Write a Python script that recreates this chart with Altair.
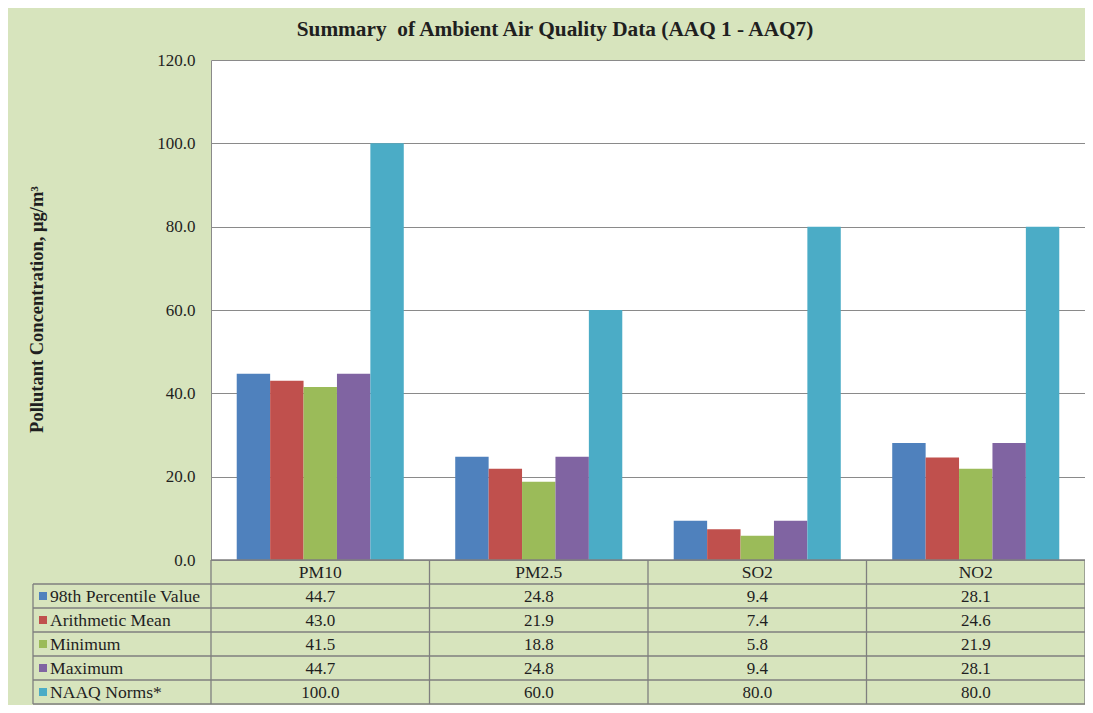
import altair as alt
import pandas as pd

categories = ["PM10", "PM2.5", "SO2", "NO2"]
series = ["98th Percentile Value", "Arithmetic Mean", "Minimum", "Maximum", "NAAQ Norms*"]
p98 = [44.7, 24.8, 9.4, 28.1]
amean = [43.0, 21.9, 7.4, 24.6]
minimum = [41.5, 18.8, 5.8, 21.9]
maximum = [44.7, 24.8, 9.4, 28.1]
naaq = [100.0, 60.0, 80.0, 80.0]
colors = ["#4F81BD", "#C0504D", "#9BBB59", "#8064A2", "#4BACC6"]
y_ticks = [0, 20, 40, 60, 80, 100, 120]

values = [p98, amean, minimum, maximum, naaq]

# layout constants
W, H = 874, 500
ROW_H = 24
N_COLS = len(categories)
COL_W = W / N_COLS
LABEL_LEFT = -178 / COL_W
N_ROWS = len(series) + 1
SERIF = "Liberation Serif"
TXT = "#1f1f1f"
LINE = "#7f7f7f"

rows = []
for i, s in enumerate(series):
    for j, c in enumerate(categories):
        rows.append({"category": c, "j": j, "series": s, "i": i, "value": values[i][j]})
df = pd.DataFrame(rows)

header = pd.DataFrame({"category": categories, "j": list(range(N_COLS))})
labels = pd.DataFrame({"series": series, "i": list(range(len(series)))})

hlines = pd.DataFrame(
    [{"r": r, "x0": (0 if r == 0 else LABEL_LEFT), "x1": N_COLS} for r in range(N_ROWS + 1)]
)
vlines = pd.DataFrame(
    [{"c": LABEL_LEFT, "r0": 1, "r1": N_ROWS}]
    + [{"c": j, "r0": 0, "r1": N_ROWS} for j in range(N_COLS + 1)]
)

tx_scale = alt.Scale(domain=[0, N_COLS], nice=False, zero=False)
ty_scale = alt.Scale(domain=[-H / ROW_H, 0], reverse=True, nice=False, zero=False)

bars = alt.Chart(df).mark_bar().encode(
    x=alt.X("category:N", sort=categories,
            scale=alt.Scale(paddingInner=0, paddingOuter=0), axis=None),
    xOffset=alt.XOffset("series:N", sort=series,
                        scale=alt.Scale(paddingOuter=0.77, paddingInner=0)),
    y=alt.Y("value:Q", scale=alt.Scale(domain=[0, 120], nice=False),
            axis=alt.Axis(values=y_ticks, format=".1f", ticks=False, domain=True,
                          domainColor="#8a8a8a", gridColor="#8a8a8a", gridWidth=1,
                          labelFont=SERIF, labelFontSize=17, labelColor=TXT,
                          labelPadding=16,
                          title="Pollutant Concentration, \u03bcg/m\u00b3",
                          titleFont=SERIF, titleFontSize=18.5, titleFontWeight="bold",
                          titleColor=TXT, titleX=-165, titleY=H / 2 - 1)),
    color=alt.Color("series:N", sort=series,
                    scale=alt.Scale(domain=series, range=colors), legend=None),
)

h_rules = alt.Chart(hlines).mark_rule(color=LINE, strokeWidth=1.3).encode(
    x=alt.X("x0:Q", scale=tx_scale, axis=None),
    x2="x1:Q",
    y=alt.Y("r:Q", scale=ty_scale, axis=None),
)

v_rules = alt.Chart(vlines).mark_rule(color=LINE, strokeWidth=1.3).encode(
    x=alt.X("c:Q", scale=tx_scale, axis=None),
    y=alt.Y("r0:Q", scale=ty_scale, axis=None),
    y2="r1:Q",
)

head_text = alt.Chart(header).transform_calculate(
    tx="datum.j + 0.5", ty="0.5"
).mark_text(font=SERIF, fontSize=17.5, color=TXT, baseline="middle", dy=1).encode(
    x=alt.X("tx:Q", scale=tx_scale, axis=None),
    y=alt.Y("ty:Q", scale=ty_scale, axis=None),
    text="category:N",
)

val_text = alt.Chart(df).transform_calculate(
    tx="datum.j + 0.5", ty="datum.i + 1.5"
).mark_text(font=SERIF, fontSize=17, color=TXT, baseline="middle", dy=1).encode(
    x=alt.X("tx:Q", scale=tx_scale, axis=None),
    y=alt.Y("ty:Q", scale=ty_scale, axis=None),
    text=alt.Text("value:Q", format=".1f"),
)

lab_text = alt.Chart(labels).transform_calculate(
    tx=f"{LABEL_LEFT}", ty="datum.i + 1.5"
).mark_text(font=SERIF, fontSize=17.6, color=TXT, baseline="middle", align="left",
            dx=17, dy=1).encode(
    x=alt.X("tx:Q", scale=tx_scale, axis=None),
    y=alt.Y("ty:Q", scale=ty_scale, axis=None),
    text="series:N",
)

lab_sq = alt.Chart(labels).transform_calculate(
    tx=f"{LABEL_LEFT}", ty="datum.i + 1.5"
).mark_square(size=64, opacity=1, xOffset=10, filled=True).encode(
    x=alt.X("tx:Q", scale=tx_scale, axis=None),
    y=alt.Y("ty:Q", scale=ty_scale, axis=None),
    color=alt.Color("series:N", sort=series,
                    scale=alt.Scale(domain=series, range=colors), legend=None),
)

chart = alt.layer(
    bars, h_rules, v_rules, head_text, val_text, lab_text, lab_sq
).resolve_scale(
    x="independent", y="independent", color="shared"
).properties(
    width=W, height=H,
    title=alt.TitleParams(
        "Summary\u00a0 of Ambient Air Quality Data (AAQ 1 - AAQ7)",
        font=SERIF, fontSize=21.3, fontWeight="bold", color=TXT,
        anchor="middle", frame="group", dx=-93, baseline="alphabetic", offset=-6,
    ),
    autosize=alt.AutoSizeParams(type="none"),
    padding={"left": 203, "top": 52, "right": 0, "bottom": 145},
).configure(
    background="#D7E4BD",
).configure_view(
    fill="white", stroke=None,
)

chart.save("out.html", embed_options={"renderer": "svg", "actions": False})
